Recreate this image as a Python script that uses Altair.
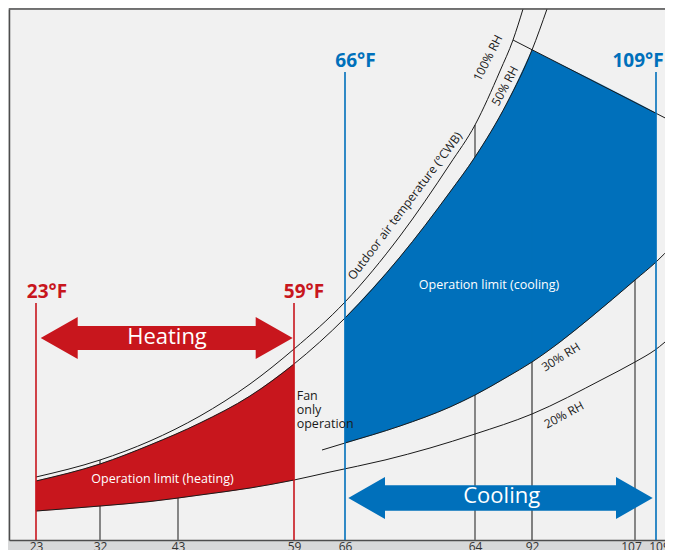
import altair as alt
import pandas as pd

# ---------------- values ----------------
# x = position along the chart, h = height above the baseline (same units)
X_MIN, X_MAX = 9, 665
H_MAX = 531

tick_x = [36, 100, 178, 294, 345, 475, 532, 635, 656]
tick_labels = ["23", "32", "43", "59", "66", "64", "92", "107", "109"]

limit_x = [36, 294, 345, 656]
limit_top = [237, 237, 468, 468]
limit_kind = ["heat", "heat", "cool", "cool"]
limit_text = ["23°F", "59°F", "66°F", "109°F"]
limit_text_x = [47, 304, 355.5, 638]
limit_text_h = [242, 242, 473, 473]

guide_x = [100, 178, 475, 635]
guide_top = [80, 42, 415, 260]
guide_dark_x = [532]
guide_dark_top = [178]

rh100_x = [36, 100, 150, 200, 250, 294, 345, 400, 450, 475, 500, 513, 523]
rh100_h = [63, 80, 99, 124, 156, 191, 238, 304, 376, 415, 469, 500, 531]
rh50_x = [36, 100, 150, 200, 250, 294, 345, 400, 450, 475, 507, 532, 547]
rh50_h = [59, 76, 95, 117, 144, 176, 222, 283, 348, 383, 437, 490, 531]
rh30_x = [322, 345, 400, 450, 475, 507, 532, 560, 590, 635, 656, 673]
rh30_h = [90, 97, 114, 133, 145, 163, 178, 198, 222, 260, 278, 295]
rh20_x = [36, 100, 150, 200, 250, 294, 330, 385, 430, 475, 532, 603, 635, 655, 673]
rh20_h = [29, 34, 38.5, 45, 52, 60, 68, 80, 92, 106, 126, 161, 178, 190, 205]
cap_x = [513, 673]
cap_h = [500, 418]

heat_x = [36, 100, 150, 200, 250, 294]
heat_top = [59, 76, 95, 117, 144, 176]
heat_bot = [29, 34, 38.5, 45, 52, 60]
cool_x = [345, 400, 450, 475, 507, 532]
cool_top = [222, 283, 348, 383, 437, 490]
cool_bot = [97, 114, 133, 145, 163, 178]
cool2_x = [532, 560, 590, 635, 656]
cool2_top = [490, 476, 461, 438, 427]
cool2_bot = [178, 198, 222, 260, 278]

heat_arrow = {"x": 166.7, "h": 202, "from": 40.7, "to": 292.7}
cool_arrow = {"x": 500.5, "h": 42, "from": 348.3, "to": 652.7}

white_text = ["Heating", "Cooling", "Operation limit (heating)", "Operation limit (cooling)"]
white_x = [167, 501.7, 162.5, 489]
white_h = [203, 44, 61, 255]

fan_text = ["Fan", "only", "operation"]
fan_x = [296.7, 296.7, 296.7]
fan_h = [140, 126.5, 112.5]

rot_text = ["Outdoor air temperature (°CWB)", "100% RH", "50% RH", "30% RH", "20% RH"]
rot_x = [405, 488, 505, 561, 564]
rot_h = [334, 482, 454, 183, 125]
rot_angle = [307, 297, 298, 328, 332]

# ---------------- styling ----------------
RED = "#c8161d"
BLUE = "#0070bb"
FONT = "Open Sans"
FRAME = "#4d4d4d"

xs = alt.Scale(domain=[X_MIN, X_MAX], nice=False, zero=False)
ys = alt.Scale(domain=[0, H_MAX], nice=False, zero=False)

label_expr = "[" + ",".join(f"'{l}'" for l in tick_labels) + "][indexof([" + \
    ",".join(str(v) for v in tick_x) + "], datum.value)]"
# nudge the two crowded labels at the right apart
offset_expr = f"datum.value == {tick_x[-2]} ? -4 : datum.value == {tick_x[-1]} ? 3 : 0"

xaxis = alt.Axis(values=tick_x, labelExpr=label_expr, title=None, grid=False,
                 ticks=False, domainColor=FRAME, domainWidth=1.5,
                 labelFontSize=12, labelColor="#333333", labelPadding=1,
                 labelOffset=alt.ExprRef(offset_expr),
                 labelOverlap=False, labelFlush=False, labelFont=FONT)
yaxis = alt.Axis(title=None, grid=False, ticks=False, labels=False,
                 domainColor=FRAME, domainWidth=1.5)
X = alt.X("x:Q", scale=xs, axis=xaxis)
Y = alt.Y("h:Q", scale=ys, axis=yaxis)
Y0 = alt.Y("base:Q", scale=ys, axis=yaxis)
KIND = alt.Color("kind:N", scale=alt.Scale(domain=["heat", "cool"], range=[RED, BLUE]),
                 legend=None)


def rules_df(xv, top):
    return pd.DataFrame({"x": xv, "base": [0] * len(xv), "h": top})


def curve_df():
    rows = []
    for name, xv, hv in [("rh100", rh100_x, rh100_h), ("rh50", rh50_x, rh50_h),
                         ("rh30", rh30_x, rh30_h), ("rh20", rh20_x, rh20_h),
                         ("cap", cap_x, cap_h)]:
        rows += [{"curve": name, "x": a, "h": b} for a, b in zip(xv, hv)]
    return pd.DataFrame(rows)


def area_df(xv, top, bot):
    return pd.DataFrame({"x": xv, "h": top, "h2": bot})


def arrow_path(half_len, head_len, head_half, shaft_half):
    hx = 1 - head_len / half_len
    hh = head_half / half_len
    sh = shaft_half / half_len
    pts = [(-1, 0), (-hx, -hh), (-hx, -sh), (hx, -sh), (hx, -hh), (1, 0),
           (hx, hh), (hx, sh), (-hx, sh), (-hx, hh)]
    return "M " + " L ".join(f"{a:.4f} {b:.4f}" for a, b in pts) + " Z"


top_border = alt.Chart(pd.DataFrame({"x": [X_MIN], "x2": [X_MAX], "h": [H_MAX]})).mark_rule(
    color=FRAME, strokeWidth=1.5).encode(x=X, x2="x2", y=Y)

grid = alt.Chart(rules_df(guide_x, guide_top)).mark_rule(
    color="#6b6b6b", strokeWidth=1.6).encode(x=X, y=Y0, y2="h")
grid_dark = alt.Chart(rules_df(guide_dark_x, guide_dark_top)).mark_rule(
    color="#222222", strokeWidth=1.1).encode(x=X, y=Y0, y2="h")

heat_area = alt.Chart(area_df(heat_x, heat_top, heat_bot)).mark_area(
    color=RED, interpolate="monotone", stroke=RED, strokeWidth=0.5).encode(x=X, y=Y, y2="h2")
cool_area = alt.Chart(area_df(cool_x, cool_top, cool_bot)).mark_area(
    color=BLUE, interpolate="monotone", stroke=BLUE, strokeWidth=0.5).encode(x=X, y=Y, y2="h2")
cool_area2 = alt.Chart(area_df(cool2_x, cool2_top, cool2_bot)).mark_area(
    color=BLUE, interpolate="monotone", stroke=BLUE, strokeWidth=0.5).encode(x=X, y=Y, y2="h2")

curves = alt.Chart(curve_df()).mark_line(
    color="#1a1a1a", strokeWidth=1, interpolate="monotone").encode(
    x=X, y=Y, detail="curve:N")

limit_rules = alt.Chart(pd.DataFrame({"x": limit_x, "base": [0] * 4, "h": limit_top,
                                      "kind": limit_kind})).mark_rule(strokeWidth=1.6).encode(
    x=X, y=Y0, y2="h", color=KIND)

limit_labels = alt.Chart(pd.DataFrame({
    "x": limit_text_x, "h": limit_text_h, "t": limit_text, "kind": limit_kind})).mark_text(
    font=FONT, fontSize=19, fontWeight="bold", align="center", baseline="alphabetic").encode(
    x=X, y=Y, text="t:N", color=KIND)

hp = arrow_path((heat_arrow["to"] - heat_arrow["from"]) / 2, 37, 21, 12)
cp = arrow_path((cool_arrow["to"] - cool_arrow["from"]) / 2, 36.7, 21, 12.8)
heat_arr = alt.Chart(pd.DataFrame({"x": [heat_arrow["x"]], "h": [heat_arrow["h"]]})).mark_point(
    shape=hp, size=(heat_arrow["to"] - heat_arrow["from"]) ** 2, filled=True,
    color=RED, opacity=1, strokeWidth=0).encode(x=X, y=Y)
cool_arr = alt.Chart(pd.DataFrame({"x": [cool_arrow["x"]], "h": [cool_arrow["h"]]})).mark_point(
    shape=cp, size=(cool_arrow["to"] - cool_arrow["from"]) ** 2, filled=True,
    color=BLUE, opacity=1, strokeWidth=0).encode(x=X, y=Y)

wdf = pd.DataFrame({"x": white_x, "h": white_h, "t": white_text,
                    "s": [22, 22, 12.5, 12.5]})
white_labels = alt.Chart(wdf).mark_text(
    font=FONT, color="white", align="center", baseline="middle").encode(
    x=X, y=Y, text="t:N", size=alt.Size("s:Q", scale=None))

fan_labels = alt.Chart(pd.DataFrame({"x": fan_x, "h": fan_h, "t": fan_text})).mark_text(
    font=FONT, fontSize=12.5, color="#1a1a1a", align="left", baseline="alphabetic").encode(
    x=X, y=Y, text="t:N")

rot_labels = alt.Chart(pd.DataFrame({"x": rot_x, "h": rot_h, "t": rot_text, "a": rot_angle,
                                     "s": [12, 12, 12, 12, 12]})).mark_text(
    font=FONT, color="#1a1a1a", align="center", baseline="middle").encode(
    x=X, y=Y, text="t:N", angle=alt.Angle("a:Q", scale=None), size=alt.Size("s:Q", scale=None))

chart = alt.layer(
    grid, grid_dark, heat_area, cool_area, cool_area2, curves, limit_rules, top_border,
    heat_arr, cool_arr, limit_labels, white_labels, fan_labels, rot_labels
).properties(
    width=X_MAX - X_MIN, height=H_MAX,
    autosize=alt.AutoSizeParams(type="none"),
    padding={"left": 1, "top": 1, "right": 0, "bottom": 20},
    background="#d7d8d9",
).configure_view(fill="#f1f1f1", strokeWidth=0)

chart.save("out.html", embed_options={"renderer": "svg", "actions": False})
